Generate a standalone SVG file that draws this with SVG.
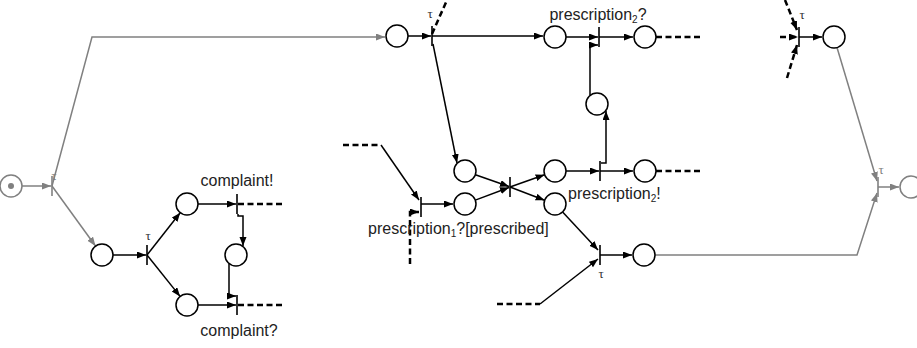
<svg xmlns="http://www.w3.org/2000/svg" width="917" height="348" viewBox="0 0 917 348">
<style>
.pl{fill:#fff;stroke:#000;stroke-width:1.5}
.plg{fill:#fff;stroke:#808080;stroke-width:1.5}
.tr{stroke:#000;stroke-width:1.6;fill:none}
.trg{stroke:#808080;stroke-width:1.6;fill:none}
.a{stroke:#000;stroke-width:1.5;fill:none;marker-end:url(#ah)}
.ag{stroke:#808080;stroke-width:1.5;fill:none;marker-end:url(#ahg)}
.d{stroke:#000;stroke-width:2.5;fill:none;stroke-dasharray:6,3.5}
.da{stroke:#000;stroke-width:2.5;fill:none;stroke-dasharray:6,3.5;marker-end:url(#ah)}
.t{font-family:"Liberation Sans",Arial,sans-serif;font-size:16px;fill:#222}
.tau{font-family:"Liberation Serif","Times New Roman",serif;font-size:13px;fill:#333;text-anchor:middle}
.taug{font-family:"Liberation Serif","Times New Roman",serif;font-size:13px;fill:#808080;text-anchor:middle}
</style>
<defs>
<marker id="ah" markerUnits="userSpaceOnUse" markerWidth="10" markerHeight="8" refX="9" refY="3.5" orient="auto"><path d="M0,0 L9,3.5 L0,7 z" fill="#000"/></marker>
<marker id="ahg" markerUnits="userSpaceOnUse" markerWidth="10" markerHeight="8" refX="9" refY="3.5" orient="auto"><path d="M0,0 L9,3.5 L0,7 z" fill="#808080"/></marker>
</defs>
<g id="connectors">
<path class="ag" d="M22,186 H51"/>
<path class="ag" d="M52,186 L95.5,246"/>
<path class="ag" d="M52,186 L92,37 H385"/>
<path class="ag" d="M655,255 H857 L877,193"/>
<path class="ag" d="M837,47.5 L877,181"/>
<path class="ag" d="M878,187 H899"/>
<path class="a" d="M113,255 H146"/>
<path class="a" d="M147,255 L180.2,212.7"/>
<path class="a" d="M147,255 L180.1,296.4"/>
<path class="a" d="M198,204 H236"/>
<path class="a" d="M198,305 H236"/>
<path class="d" d="M238,204 H283"/>
<path class="d" d="M238,305 H283"/>
<path class="a" d="M238,214 V216 H243 V246"/>
<path class="a" d="M229,263.5 V296 H236"/>
<path class="a" d="M408,36 H431"/>
<path class="d" d="M432,34 L447,0"/>
<path class="a" d="M432,36 H543"/>
<path class="a" d="M433,44 L457,163"/>
<path class="d" d="M343,145 H381"/>
<path class="a" d="M381,145 L419,200"/>
<path class="da" d="M410,264 V212 H419"/>
<path class="a" d="M421,204 H453"/>
<path class="a" d="M475.4,174.7 L509,186.5"/>
<path class="a" d="M475.3,200.1 L509,187.5"/>
<path class="a" d="M510,187 L544.6,174.7"/>
<path class="a" d="M510,187 L544.6,200.3"/>
<path class="a" d="M566,37 H598"/>
<path class="a" d="M599,37 H633"/>
<path class="d" d="M656,37 H702"/>
<path class="a" d="M590,95.5 V45 H598"/>
<path class="a" d="M566,171 H599"/>
<path class="a" d="M600,171 H633"/>
<path class="d" d="M656,171 H700"/>
<path class="a" d="M601,163 H606 V111"/>
<path class="a" d="M562.6,211.9 L598,250"/>
<path class="d" d="M497,304 H540"/>
<path class="a" d="M540,304 L598,259"/>
<path class="a" d="M600,255 H632"/>
<path class="da" d="M785,0 L797,30"/>
<path class="da" d="M780,37 H798"/>
<path class="da" d="M787,78 L797,45"/>
<path class="a" d="M799,37 H822"/>
</g>
<g id="start"><circle class="plg" cx="11" cy="186" r="11"/><circle cx="11" cy="186" r="3" fill="#808080"/></g>
<g id="t0"><path class="trg" d="M52,176 V196"/><text class="taug" x="54" y="180">τ</text></g>
<g id="p1"><circle class="pl" cx="102" cy="255" r="11"/></g>
<g id="t1"><path class="tr" d="M147,245 V265"/><text class="tau" x="148" y="240">τ</text></g>
<g id="p2"><circle class="pl" cx="187" cy="204" r="11"/></g>
<g id="p3"><circle class="pl" cx="187" cy="305" r="11"/></g>
<g id="t2"><path class="tr" d="M237,194 V214"/><text class="t" x="237" y="186" text-anchor="middle">complaint!</text></g>
<g id="t3"><path class="tr" d="M237,295 V315"/><text class="t" x="239" y="336" text-anchor="middle">complaint?</text></g>
<g id="p4"><circle class="pl" cx="236" cy="255" r="11"/></g>
<g id="p5"><circle class="pl" cx="397" cy="36" r="11"/></g>
<g id="t4"><path class="tr" d="M432,26 V46"/><text class="tau" x="430" y="18">τ</text></g>
<g id="p6"><circle class="pl" cx="555" cy="37" r="11"/></g>
<g id="t7"><path class="tr" d="M599,27 V47"/><text class="t" x="598" y="20" text-anchor="middle">prescription<tspan font-size="10" dy="3">2</tspan><tspan dy="-3">?</tspan></text></g>
<g id="p12"><circle class="pl" cx="645" cy="37" r="11"/></g>
<g id="p11"><circle class="pl" cx="597" cy="104" r="11"/></g>
<g id="p7"><circle class="pl" cx="465" cy="171" r="11"/></g>
<g id="p8"><circle class="pl" cx="465" cy="204" r="11"/></g>
<g id="t6"><path class="tr" d="M421,197 V217"/><text class="t" x="368" y="234">prescription<tspan font-size="10" dy="3">1</tspan><tspan dy="-3">?[prescribed]</tspan></text></g>
<g id="t5"><path class="tr" d="M510,177 V197"/></g>
<g id="p9"><circle class="pl" cx="555" cy="171" r="11"/></g>
<g id="p10"><circle class="pl" cx="555" cy="204" r="11"/></g>
<g id="t8"><path class="tr" d="M600,161 V181"/><text class="t" x="568" y="199">prescription<tspan font-size="10" dy="3">2</tspan><tspan dy="-3">!</tspan></text></g>
<g id="p13"><circle class="pl" cx="645" cy="171" r="11"/></g>
<g id="t9"><path class="tr" d="M600,245 V265"/><text class="tau" x="601" y="278">τ</text></g>
<g id="p14"><circle class="pl" cx="644" cy="255" r="11"/></g>
<g id="t10"><path class="tr" d="M799,27 V47"/><text class="tau" x="802" y="19">τ</text></g>
<g id="p15"><circle class="pl" cx="834" cy="37" r="11"/></g>
<g id="tend"><path class="trg" d="M878,177 V197"/><text class="taug" x="881" y="174">τ</text></g>
<g id="end"><circle class="plg" cx="911" cy="187" r="11"/></g>
</svg>
